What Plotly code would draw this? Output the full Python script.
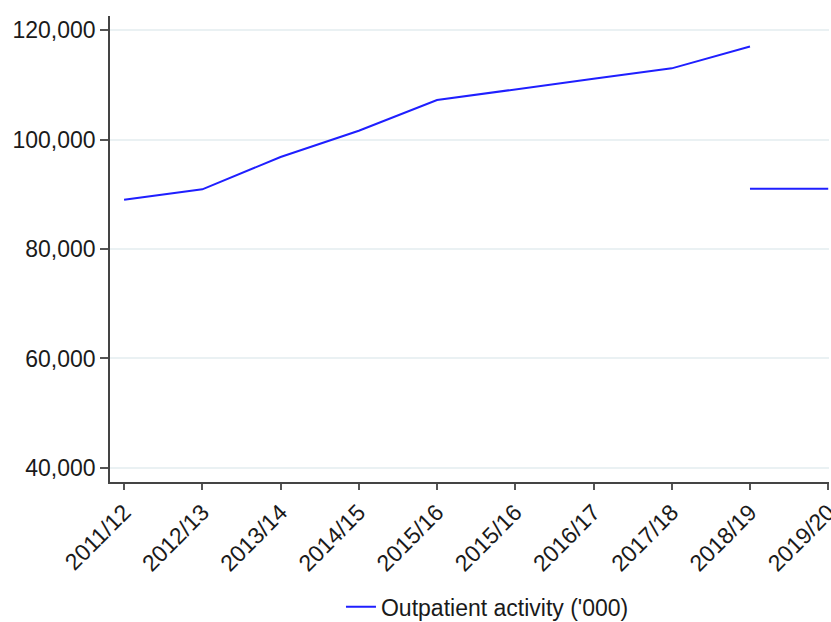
"""Outpatient activity ('000), 2011/12 to 2019/20."""

import plotly.graph_objects as go

# Category labels as printed on the x axis (2015/16 appears twice in the source)
years = [
    "2011/12", "2012/13", "2013/14", "2014/15", "2015/16",
    "2015/16", "2016/17", "2017/18", "2018/19", "2019/20",
]

# Main series
activity = [89000, 90900, 96800, 101600, 107200, 109200, 111100, 113000, 117000, None]

# Separate flat segment between 2018/19 and 2019/20
activity_2019 = [None, None, None, None, None, None, None, None, 91000, 91000]

yticks = [40000, 60000, 80000, 100000, 120000]

FONT = "Liberation Sans, Arial, sans-serif"
BLUE = "#1f1fff"

xpos = list(range(len(years)))

fig = go.Figure()

fig.add_trace(
    go.Scatter(
        x=xpos,
        y=activity,
        mode="lines",
        name="Outpatient activity ('000)",
        legendgroup="op",
        line=dict(color=BLUE, width=2),
    )
)

fig.add_trace(
    go.Scatter(
        x=xpos,
        y=activity_2019,
        mode="lines",
        name="Outpatient activity ('000)",
        legendgroup="op",
        showlegend=False,
        line=dict(color=BLUE, width=2),
    )
)

fig.update_layout(
    width=831,
    height=622,
    margin=dict(l=110, r=2, t=16, b=140, autoexpand=False),
    paper_bgcolor="white",
    plot_bgcolor="white",
    font=dict(family=FONT, size=23, color="#1a1a1a"),
    showlegend=True,
    legend=dict(
        orientation="h",
        x=0.525,
        xanchor="center",
        y=-0.268,
        yanchor="middle",
        font=dict(size=23),
    ),
    xaxis=dict(
        range=[-0.18, 9.01],
        automargin=False,
        tickmode="array",
        tickvals=xpos,
        ticktext=years,
        tickangle=-45,
        ticklabeloverflow="allow",
        ticks="outside",
        ticklen=6,
        tickwidth=1.5,
        tickcolor="#555",
        showline=True,
        linecolor="#444",
        linewidth=1.5,
        showgrid=False,
        zeroline=False,
    ),
    yaxis=dict(
        range=[37440, 122560],
        automargin=False,
        tickvals=yticks,
        tickformat=",d",
        ticks="outside",
        ticklen=8,
        tickwidth=1.5,
        tickcolor="#555",
        showline=True,
        linecolor="#444",
        linewidth=1.5,
        showgrid=True,
        gridcolor="#eaf1f3",
        gridwidth=1.5,
        zeroline=False,
    ),
)

# drop the browser's default 8px body margin so the figure fills the window
fig.write_html(
    "out.html",
    config={"displayModeBar": False},
    post_script="document.body.style.margin = '0';",
)
